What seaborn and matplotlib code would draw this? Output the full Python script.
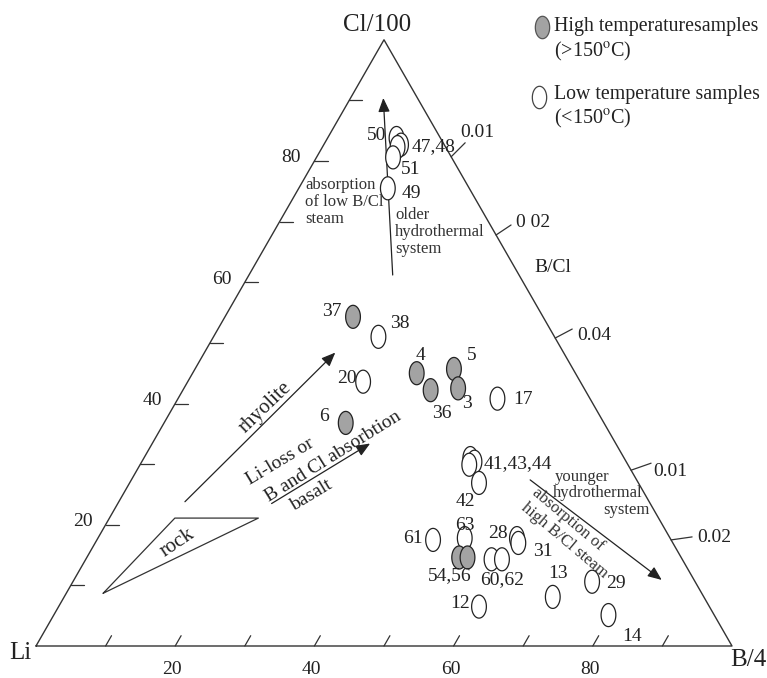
import numpy as np
import pandas as pd
import matplotlib.pyplot as plt
from matplotlib.path import Path
import seaborn as sns

# Sample data: Cl/100 and B/4 shares in % (Li is the rest)
sample_id = ["37", "38", "4", "5", "36", "3", "20", "6", "17",
             "41", "43", "44", "42", "61", "63", "54", "56", "60", "62", "28", "31",
             "13", "29", "12", "14", "50", "47", "48", "51", "49"]
cl = [54.3, 51.0, 45.0, 45.7, 42.2, 42.5, 43.6, 36.8, 40.8,
      31.0, 30.4, 29.9, 26.9, 17.5, 17.8, 14.6, 14.6, 14.3, 14.3, 17.8, 17.0,
      8.1, 10.6, 6.5, 5.1, 83.8, 82.7, 82.3, 80.6, 75.5]
b = [18.4, 23.7, 32.2, 37.2, 35.6, 39.4, 25.2, 26.1, 45.9,
     46.9, 47.8, 47.3, 50.2, 48.3, 52.7, 53.5, 54.7, 58.3, 59.8, 60.2, 60.8,
     70.2, 74.6, 60.4, 79.7, 9.9, 11.1, 10.8, 11.0, 12.8]
temp = ["high", "low", "high", "high", "high", "high", "low", "high", "low",
        "low", "low", "low", "low", "low", "low", "high", "high", "low", "low", "low", "low",
        "low", "low", "low", "low", "low", "low", "low", "low", "low"]

# point labels (text drawn next to the ellipses)
label_text = ["37", "38", "4", "5", "36", "3", "20", "6", "17", "41,43,44", "42",
              "61", "63", "54,56", "60,62", "28", "31", "13", "29", "12", "14",
              "50", "47,48", "51", "49"]
label_px = [(331.7, 311.7), (400, 323.3), (420, 355), (471.7, 355), (441.7, 413.3),
            (467.3, 403.3), (346.7, 378.3), (324, 416.7), (523.3, 399), (518.3, 463.3),
            (465, 501.7), (413.3, 538.3), (465, 525), (450, 576), (501.7, 580),
            (498.3, 533.3), (543.3, 551.7), (558.5, 573.5), (616, 584), (460, 603.5),
            (632.3, 636.5), (376.7, 135), (433.3, 146.7), (410.8, 170), (411.7, 193.3)]

# rock field (Cl, B)
rock_cl = [8.7, 21.1, 21.1]
rock_b = [5.3, 9.4, 21.4]

# trend arrows: (Cl tail, B tail, Cl head, B head)
arrows = {
    "older": (61.2, 20.65, 90.4, 4.7),
    "rhyolite": (23.8, 9.5, 48.4, 18.8),
    "basalt": (23.5, 22.1, 33.4, 31.3),
    "younger": (27.4, 57.3, 10.9, 84.45),
}

# B/Cl marks on right edge
bcl_labels = ["0.01", "0 02", "0.04", "0.01", "0.02"]
bcl_cl = [80.7, 67.8, 50.8, 29.0, 17.5]

GRAY = "#a3a3a3"
INK = "#222222"

sns.set_style("white")
plt.rcParams["font.family"] = ["Liberation Serif", "DejaVu Serif"]
plt.rcParams["mathtext.fontset"] = "stix"

SQ = np.sqrt(3) / 2


def tern(c, bb):
    c = np.asarray(c, float)
    bb = np.asarray(bb, float)
    return bb + c / 2, c * SQ


def px(x, y):
    return (x - 36) / 6.96, (646 - y) / 7.0


def to_px(X, Y):
    return 36 + 6.96 * X, 646 - 7.0 * Y


fig = plt.figure(figsize=(7.67, 6.78), dpi=100)
ax = fig.add_axes([0, 0, 1, 1])

t = np.linspace(0, 2 * np.pi, 64)
ellipse = Path(np.c_[0.64 * np.cos(t), np.sin(t)], closed=True)

df = pd.DataFrame({"id": sample_id, "Cl": cl, "B": b, "T": temp})
df["X"], df["Y"] = tern(df["Cl"], df["B"])

# triangle frame
fx, fy = tern([0, 100, 0, 0], [0, 0, 100, 0])
ax.plot(fx, fy, color="#333333", lw=1.0, zorder=1)

# left ticks (Cl) and bottom ticks (B)
for v in range(10, 100, 10):
    x0, y0 = tern(v, 0)
    ax.plot([x0, x0 + 1.9], [y0, y0], color="#333333", lw=0.9)
    x0, y0 = tern(0, v)
    ax.plot([x0, x0 + 0.85], [y0, y0 + 1.7 * SQ], color="#333333", lw=0.9)
for v in [20, 40, 60, 80]:
    x0, y0 = tern(v, 0)
    ax.text(x0 - 1.9, y0 + 0.45, str(v), ha="right", va="center", fontsize=14, color=INK)
    x0, _ = tern(0, v)
    ax.text(x0 - 0.4, px(0, 670)[1], str(v), ha="center", va="center", fontsize=14, color=INK)

# B/Cl marks on the right edge
tick_off = [(14, -14), (15, -10), (17, -9), (20, -7), (21, -3)]
lab_off = [(-5, -10), (5, -2), (5, 6), (2, 8), (5, 1)]
for lab, c, to, lo in zip(bcl_labels, bcl_cl, tick_off, lab_off):
    sx, sy = to_px(*tern(c, 100 - c))
    ex, ey = sx + to[0], sy + to[1]
    ax.plot(*zip(px(sx, sy), px(ex, ey)), color="#333333", lw=0.9)
    ax.text(*px(ex + lo[0], ey + lo[1]), lab, ha="left", va="center", fontsize=14, color=INK)
ax.text(*px(553, 268), "B/Cl", ha="center", va="center", fontsize=14, color=INK)

# vertex labels
ax.text(*px(20, 653), "Li", ha="center", va="center", fontsize=18, color=INK)
ax.text(*px(748, 660), "B/4", ha="center", va="center", fontsize=18, color=INK)
ax.text(*px(377, 25), "Cl/100", ha="center", va="center", fontsize=18, color=INK)

# rock field
rx, ry = tern(rock_cl + rock_cl[:1], rock_b + rock_b[:1])
ax.plot(rx, ry, color="#333333", lw=0.9)
ax.text(*px(177.5, 543), "rock", rotation=34, ha="center", va="center", fontsize=15, color=INK)

# arrows
for key, (c0, b0, c1, b1) in arrows.items():
    ax.annotate("", xy=tern(c1, b1), xytext=tern(c0, b0),
                arrowprops=dict(arrowstyle="-|>,head_length=0.6,head_width=0.25",
                                mutation_scale=14, color=INK, lw=0.9,
                                shrinkA=0, shrinkB=0))

# samples
sns.scatterplot(data=df, x="X", y="Y", hue="T", palette={"high": GRAY, "low": "white"},
                marker=ellipse, s=275, edgecolor=INK, linewidth=0.9,
                legend=False, ax=ax, zorder=3)

for lab, (lx, ly) in zip(label_text, label_px):
    ax.text(*px(lx, ly), lab, ha="center", va="center", fontsize=14, color=INK, zorder=4)

# process annotations
ax.text(*px(305, 202), "absorption\nof low B/Cl\nsteam", ha="left", va="center",
        fontsize=12, linespacing=1.05, color="#333333")
ax.text(*px(395, 232), "older\nhydrothermal\nsystem", ha="left", va="center",
        fontsize=12, linespacing=1.05, color="#333333")
ax.text(*px(581.7, 476.7), "younger", ha="center", va="center", fontsize=12, color="#333333")
ax.text(*px(597.5, 493.3), "hydrothermal", ha="center", va="center", fontsize=12, color="#333333")
ax.text(*px(626, 510), "system", ha="center", va="center", fontsize=12, color="#333333")
ax.text(*px(568.3, 519.5), "absorption of", rotation=-40, ha="center", va="center",
        fontsize=12, color="#333333")
ax.text(*px(564, 540.7), "high B/Cl steam", rotation=-40, ha="center", va="center",
        fontsize=12, color="#333333")
ax.text(*px(265, 407.5), "rhyolite", rotation=44, ha="center", va="center", fontsize=15, color=INK)
ax.text(*px(280.5, 462), "Li-loss or", rotation=31, ha="center", va="center", fontsize=14, color=INK)
ax.text(*px(333.3, 456.7), "B and Cl absorbtion", rotation=32, ha="center", va="center",
        fontsize=14, color=INK)
ax.text(*px(311.7, 495), "basalt", rotation=31, ha="center", va="center", fontsize=14, color=INK)

# legend
ax.scatter(*px(541.7, 26.7), marker=ellipse, s=260, facecolor=GRAY, edgecolor="#555555", lw=0.9)
ax.scatter(*px(538.5, 96.7), marker=ellipse, s=260, facecolor="white", edgecolor="#444444", lw=0.9)
ax.text(*px(554, 26.7), "High temperaturesamples", ha="left", va="center", fontsize=14.3, color=INK)
ax.text(*px(554, 51), r"(>150$^{\mathrm{o}}$C)", ha="left", va="center", fontsize=14.5, color=INK)
ax.text(*px(554, 95), "Low temperature samples", ha="left", va="center", fontsize=14.3, color=INK)
ax.text(*px(554, 118), r"(<150$^{\mathrm{o}}$C)", ha="left", va="center", fontsize=14.5, color=INK)

ax.set_xlim(-36 / 6.96, (767 - 36) / 6.96)
ax.set_ylim((646 - 678) / 7.0, 646 / 7.0)
ax.axis("off")

fig.savefig("out.png", dpi=100)
